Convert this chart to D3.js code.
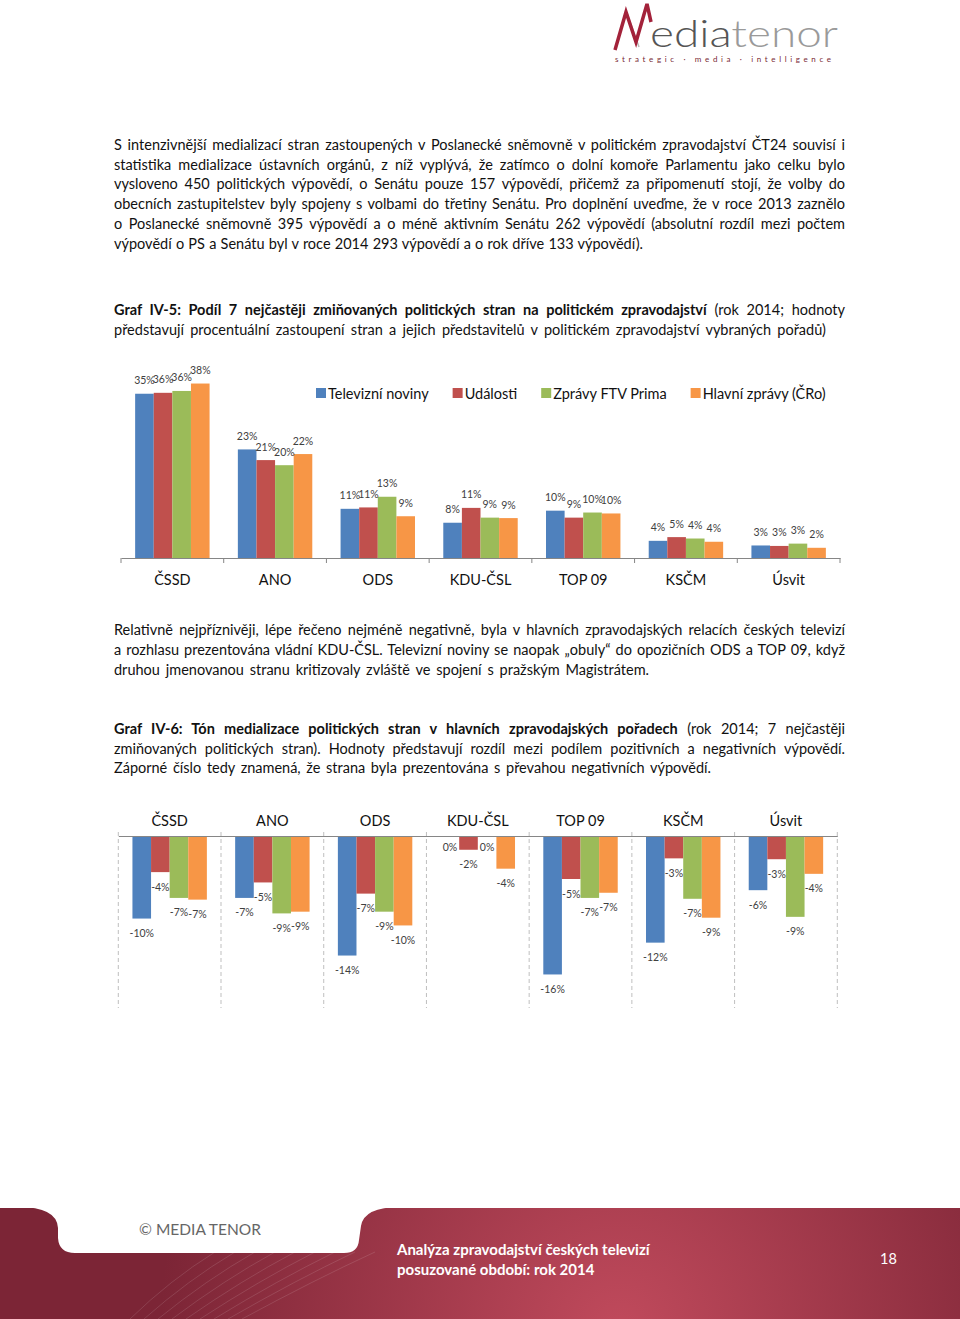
<!DOCTYPE html>
<html>
<head>
<meta charset="utf-8">
<script src="https://cdn.jsdelivr.net/npm/d3@7"></script>
<style>
  body { margin: 0; background: #fff; }
  svg { display: block; font-family: Lato, "Open Sans", sans-serif; }
</style>
</head>
<body>
<script>
// ---- data ----
const parties = ["ČSSD", "ANO", "ODS", "KDU-ČSL", "TOP 09", "KSČM", "Úsvit"];
const series = ["Televizní noviny", "Události", "Zprávy FTV Prima", "Hlavní zprávy (ČRo)"];
const colors = ["#4f81bd", "#c0504d", "#9bbb59", "#f79646"];

// Graf IV-5: podíl (%)
const shareTN  = [35.4, 23.4, 10.6, 7.6, 10.2, 3.7, 2.7];
const shareUd  = [35.6, 21.1, 10.9, 10.8, 8.7, 4.5, 2.6];
const shareFTV = [36.0, 20.0, 13.2, 8.7, 9.8, 4.2, 3.1];
const shareCRo = [37.6, 22.4, 9.0, 8.6, 9.6, 3.5, 2.2];

// Graf IV-6: tón (%)
const toneTN  = [-9.6, -7.2, -13.9, 0, -16.1, -12.4, -6.3];
const toneUd  = [-4.2, -5.4, -6.7, -1.6, -5.0, -2.6, -2.7];
const toneFTV = [-7.2, -9.0, -8.8, 0, -7.2, -7.3, -9.4];
const toneCRo = [-7.4, -8.8, -10.4, -3.8, -6.6, -9.5, -4.4];

const para1 = [
  "S intenzivnější medializací stran zastoupených v Poslanecké sněmovně v politickém zpravodajství ČT24 souvisí i",
  "statistika medializace ústavních orgánů, z níž vyplývá, že zatímco o dolní komoře Parlamentu jako celku bylo",
  "vysloveno 450 politických výpovědí, o Senátu pouze 157 výpovědí, přičemž za připomenutí stojí, že volby do",
  "obecních zastupitelstev byly spojeny s volbami do třetiny Senátu. Pro doplnění uveďme, že v roce 2013 zaznělo",
  "o Poslanecké sněmovně 395 výpovědí a o méně aktivním Senátu 262 výpovědí (absolutní rozdíl mezi počtem",
  "výpovědí o PS a Senátu byl v roce 2014 293 výpovědí a o rok dříve 133 výpovědí)."
];
const para2 = [
  "Relativně nejpříznivěji, lépe řečeno nejméně negativně, byla v hlavních zpravodajských relacích českých televizí",
  "a rozhlasu prezentována vládní KDU-ČSL. Televizní noviny se naopak „obuly“ do opozičních ODS a TOP 09, když",
  "druhou jmenovanou stranu kritizovaly zvláště ve spojení s pražským Magistrátem."
];
const head5 = [
  [{t: "Graf IV-5: Podíl 7 nejčastěji zmiňovaných politických stran na politickém zpravodajství", b: true}, {t: " (rok 2014; hodnoty"}],
  [{t: "představují procentuální zastoupení stran a jejich představitelů v politickém zpravodajství vybraných pořadů)"}]
];
const head6 = [
  [{t: "Graf IV-6: Tón medializace politických stran v hlavních zpravodajských pořadech", b: true}, {t: " (rok 2014; 7 nejčastěji"}],
  [{t: "zmiňovaných politických stran). Hodnoty představují rozdíl mezi podílem pozitivních a negativních výpovědí."}],
  [{t: "Záporné číslo tedy znamená, že strana byla prezentována s převahou negativních výpovědí."}]
];

const W = 960, H = 1319;
const svg = d3.select("body").append("svg").attr("width", W).attr("height", H);
const defs = svg.append("defs");

// ---- text blocks ----
const left = 114, textW = 731;

function textLine(y, parts, target) {
  const t = svg.append("text").attr("x", left).attr("y", y)
    .attr("font-size", 14.5).attr("fill", "#111");
  parts.forEach(p => {
    t.append("tspan").attr("font-weight", p.b ? 700 : 400).text(p.t);
  });
  const w = t.node().getComputedTextLength();
  const spaces = parts.map(p => p.t).join("").split(" ").length - 1;
  if (w > target) {
    t.attr("textLength", target).attr("lengthAdjust", "spacingAndGlyphs");
  } else if (spaces > 0) {
    t.attr("word-spacing", (target - w) / spaces);
  }
}

// last line is stretched to the width it has in the original page
function block(lines, y0, lh, lastW) {
  lines.forEach((l, i) => {
    const parts = typeof l === "string" ? [{t: l}] : l;
    const last = i === lines.length - 1;
    textLine(y0 + i * lh, parts, last ? lastW : textW);
  });
}

block(para1, 150, 19.7, 529);
block(head5, 315, 20, 712);
block(para2, 635, 20, 535);
block(head6, 734, 19.6, 597);

// ---- chart 1: podíl ----
const share = [shareTN, shareUd, shareFTV, shareCRo];
const rows1 = parties.map((p, i) => ({party: p, vals: series.map((s, j) => ({s, j, v: share[j][i]}))}));

const x0a = d3.scaleBand().domain(parties).range([121, 840]);
const x1a = d3.scaleBand().domain(series).range([0, x0a.bandwidth()]).paddingOuter(0.76);
const ya = d3.scaleLinear().domain([0, 40]).range([558, 558 - 40 * 4.64]);

const c1 = svg.append("g");
const g1 = c1.selectAll(".grp").data(rows1).join("g")
  .attr("transform", d => `translate(${x0a(d.party)},0)`);
g1.selectAll("rect").data(d => d.vals).join("rect")
  .attr("x", d => x1a(d.s)).attr("width", x1a.bandwidth())
  .attr("y", d => ya(d.v)).attr("height", d => ya(0) - ya(d.v))
  .attr("fill", d => colors[d.j]);
g1.selectAll("text").data(d => d.vals).join("text")
  .attr("x", d => x1a(d.s) + x1a.bandwidth() / 2)
  .attr("y", d => ya(d.v) - 9.5)
  .attr("text-anchor", "middle").attr("font-size", 10.5).attr("fill", "#404040")
  .text(d => Math.round(d.v) + "%");

const ax1 = c1.append("g").attr("transform", `translate(0,${ya(0)})`)
  .call(d3.axisBottom(x0a).tickSize(0).tickPadding(17));
ax1.select(".domain").attr("stroke", "#868686");
ax1.selectAll(".tick text").attr("font-size", 14.5).attr("fill", "#111")
  .attr("font-family", "Lato, sans-serif");
c1.selectAll(".sep").data(d3.range(parties.length + 1)).join("line")
  .attr("x1", i => 121 + i * x0a.step()).attr("x2", i => 121 + i * x0a.step())
  .attr("y1", ya(0)).attr("y2", ya(0) + 5).attr("stroke", "#868686");

// legend
const lg = c1.append("g");
let lx = 316;
series.forEach((s, j) => {
  lg.append("rect").attr("x", lx).attr("y", 388).attr("width", 10).attr("height", 10).attr("fill", colors[j]);
  const t = lg.append("text").attr("x", lx + 12).attr("y", 399).attr("font-size", 14.5).attr("fill", "#111").text(s);
  lx += 12 + t.node().getComputedTextLength() + 24;
});

// ---- chart 2: tón ----
const tone = [toneTN, toneUd, toneFTV, toneCRo];
const rows2 = parties.map((p, i) => ({party: p, vals: series.map((s, j) => ({s, j, v: tone[j][i]}))}));

const x0b = d3.scaleBand().domain(parties).range([118.3, 837.3]);
const x1b = d3.scaleBand().domain(series).range([0, x0b.bandwidth()]).paddingOuter(0.76);
const yb = d3.scaleLinear().domain([-20, 0]).range([1008, 836]);

const c2 = svg.append("g");
c2.selectAll(".grid").data(d3.range(parties.length + 1)).join("line")
  .attr("x1", i => 118.3 + i * x0b.step()).attr("x2", i => 118.3 + i * x0b.step())
  .attr("y1", yb(0) - 4).attr("y2", yb(-20))
  .attr("stroke", "#bfbfbf").attr("stroke-dasharray", "4,3");

const g2 = c2.selectAll(".grp").data(rows2).join("g")
  .attr("transform", d => `translate(${x0b(d.party)},0)`);
g2.selectAll("rect").data(d => d.vals).join("rect")
  .attr("x", d => x1b(d.s)).attr("width", x1b.bandwidth())
  .attr("y", yb(0)).attr("height", d => yb(d.v) - yb(0))
  .attr("fill", d => colors[d.j]);
g2.selectAll("text").data(d => d.vals).join("text")
  .attr("x", d => x1b(d.s) + x1b.bandwidth() / 2)
  .attr("y", d => yb(d.v) + (d.v === 0 ? 14.5 : 18.5))
  .attr("text-anchor", "middle").attr("font-size", 10.5).attr("fill", "#404040")
  .text(d => (Math.round(d.v) || 0) + "%");

const ax2 = c2.append("g").attr("transform", `translate(0,${yb(0)})`)
  .call(d3.axisTop(x0b).tickSize(0).tickPadding(10));
ax2.select(".domain").attr("stroke", "#868686");
ax2.selectAll(".tick text").attr("font-size", 14.5).attr("fill", "#111")
  .attr("font-family", "Lato, sans-serif");

// ---- header logo ----
const logo = svg.append("g");
logo.append("path").attr("d", "M627,13 L639,47").attr("stroke", "#b8b8b8").attr("stroke-width", 1.5).attr("fill", "none");
logo.append("path").attr("d", "M615,50 L626,12 L636,42 L647,4 L651,22")
  .attr("stroke", "#a3223a").attr("stroke-width", 3.5).attr("fill", "none").attr("stroke-linejoin", "miter");
const lt = logo.append("text").attr("x", 650).attr("y", 47).attr("font-size", 38).attr("font-weight", 300)
  .attr("textLength", 188).attr("lengthAdjust", "spacingAndGlyphs");
lt.append("tspan").attr("fill", "#555").text("edia");
lt.append("tspan").attr("fill", "#9a9a9a").text("tenor");
logo.append("text").attr("x", 615).attr("y", 61.5).attr("font-size", 8).attr("fill", "#7a2a35")
  .attr("textLength", 216).attr("lengthAdjust", "spacing")
  .text("strategic · media · intelligence");

// ---- footer ----
const rg = defs.append("radialGradient").attr("id", "band")
  .attr("gradientUnits", "userSpaceOnUse").attr("cx", 620).attr("cy", 1330).attr("r", 460);
rg.append("stop").attr("offset", 0).attr("stop-color", "#c04a5c");
rg.append("stop").attr("offset", 1).attr("stop-color", "#7c2536");
svg.append("rect").attr("x", 0).attr("y", 1208).attr("width", W).attr("height", H - 1208).attr("fill", "url(#band)");
const deco = svg.append("g").attr("stroke", "#fff").attr("stroke-opacity", 0.12).attr("fill", "none");
d3.range(9).forEach(i => {
  deco.append("path").attr("d", `M${130 + i * 14},1319 Q${170 + i * 18},1280 ${215 + i * 20},1252`);
});
svg.append("path")
  .attr("d", "M18,1207 Q57,1207 58,1228 L58,1238 Q59,1253 75,1253 L344,1253 Q358,1253 359,1240 L361,1226 Q364,1207 400,1207 Z")
  .attr("fill", "#fff");
svg.append("text").attr("x", 200).attr("y", 1235).attr("text-anchor", "middle")
  .attr("font-size", 15.5).attr("fill", "#666").text("© MEDIA TENOR");
svg.append("text").attr("x", 397).attr("y", 1255).attr("font-size", 15).attr("font-weight", 700)
  .attr("fill", "#fff").text("Analýza zpravodajství českých televizí");
svg.append("text").attr("x", 397).attr("y", 1275).attr("font-size", 15).attr("font-weight", 700)
  .attr("fill", "#fff").text("posuzované období: rok 2014");
svg.append("text").attr("x", 880).attr("y", 1264).attr("font-size", 14.5)
  .attr("fill", "#fff").text("18");
</script>
</body>
</html>
